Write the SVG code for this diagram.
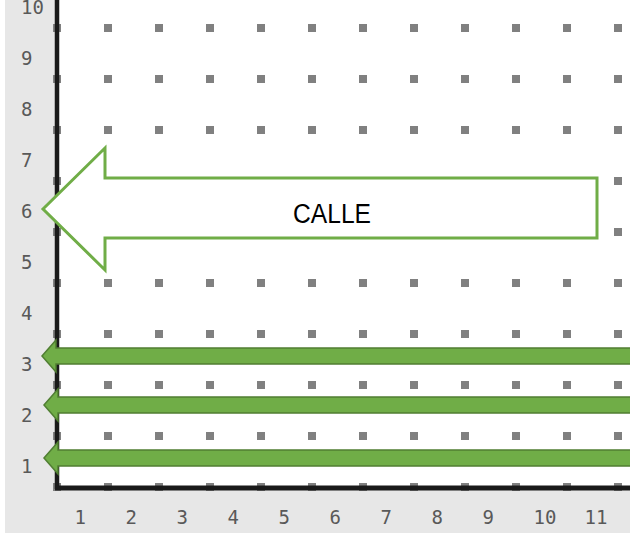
<svg xmlns="http://www.w3.org/2000/svg" width="630" height="535" viewBox="0 0 630 535">
<defs>
<style>
.lbl{font-family:"DejaVu Sans Mono","Liberation Mono",monospace;font-size:19px;fill:#595959}
.dot{fill:#808080}
.thin{fill:#70ad47;stroke:#507e32;stroke-width:1.5;stroke-linejoin:miter}
</style>
<pattern id="dots" x="53" y="24" width="51" height="51" patternUnits="userSpaceOnUse">
<rect x="0" y="0" width="8" height="8" class="dot"/>
</pattern>
</defs>
<rect x="0" y="0" width="630" height="535" fill="#ffffff"/>
<rect x="5" y="0" width="625" height="533" fill="#e7e7e7"/>
<rect x="57" y="0" width="573" height="487" fill="#ffffff"/>
<g id="grid">
<rect x="53" y="24" width="577" height="467" fill="url(#dots)"/>
</g>
<g id="axes">
<line x1="57" y1="0" x2="57" y2="489" stroke="#1a1a1a" stroke-width="4.5"/>
<line x1="55" y1="488" x2="630" y2="488" stroke="#1a1a1a" stroke-width="5"/>
</g>
<g id="y-labels" class="lbl">
<text x="21" y="13.8">10</text>
<text x="21" y="64.8">9</text>
<text x="21" y="115.8">8</text>
<text x="21" y="166.8">7</text>
<text x="21" y="217.8">6</text>
<text x="21" y="268.8">5</text>
<text x="21" y="319.8">4</text>
<text x="21" y="370.8">3</text>
<text x="21" y="421.8">2</text>
<text x="21" y="472.8">1</text>
</g>
<g id="x-labels" class="lbl">
<text x="74.5" y="524">1</text>
<text x="125.5" y="524">2</text>
<text x="176.5" y="524">3</text>
<text x="227.5" y="524">4</text>
<text x="278.5" y="524">5</text>
<text x="329.5" y="524">6</text>
<text x="380.5" y="524">7</text>
<text x="431.5" y="524">8</text>
<text x="482.5" y="524">9</text>
<text x="533.5" y="524">10</text>
<text x="584.5" y="524">11</text>
</g>
<g id="calle">
<polygon points="43,209 105,148 105,178 597,178 597,238 105,238 105,270" fill="#ffffff" stroke="#70ad47" stroke-width="3"/>
<text x="293" y="223" font-family="Liberation Sans, Arial, sans-serif" font-size="27" fill="#000000" textLength="78" lengthAdjust="spacingAndGlyphs">CALLE</text>
</g>
<g id="connectors">
<polygon class="thin" points="42,356 56,340 56,348 632,348 632,364 56,364 56,372"/>
<polygon class="thin" points="44,405 58,389 58,397 632,397 632,413 58,413 58,421"/>
<polygon class="thin" points="44,458 58,442 58,450 632,450 632,466 58,466 58,474"/>
</g>
</svg>
